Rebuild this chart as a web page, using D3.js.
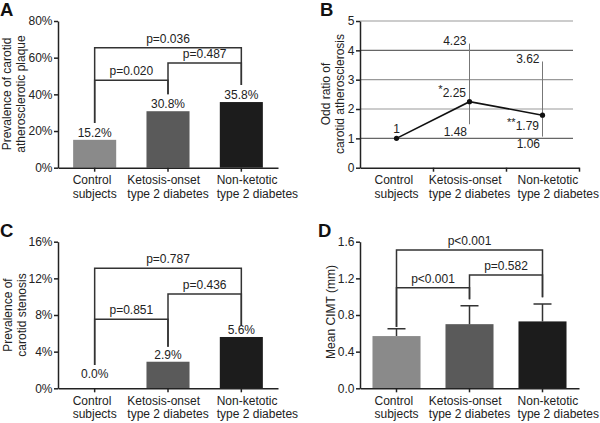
<!DOCTYPE html>
<html>
<head>
<meta charset="utf-8">
<script src="https://cdn.jsdelivr.net/npm/d3@7"></script>
<style>
body { margin: 0; background: #fff; }
svg { font-family: "Liberation Sans", Arial, sans-serif; }
</style>
</head>
<body>
<div id="chart"></div>
<script>
// categories shared by all four panels
const categories = [["Control", "subjects"], ["Ketosis-onset", "type 2 diabetes"], ["Non-ketotic", "type 2 diabetes"]];

// A: carotid plaque prevalence (%)
const plaqueValues = [15.2, 30.8, 35.8];
const plaqueTicks = [0, 20, 40, 60, 80];
const plaquePairs = [[0, 2], [0, 1], [1, 2]];
const plaqueLevels = [65.4, 47.7, 57.1];
const plaquePLabels = ["p=0.036", "p=0.020", "p=0.487"];
const plaqueLegEnds = [24.4, 40.0, 45.1];

// B: odds ratio of carotid atherosclerosis
const orValues = [1, 2.25, 1.79];
const orLower = [null, 1.48, 1.06];
const orUpper = [null, 4.23, 3.62];
const orStars = ["", "*", "**"];
const orTicks = [0, 1, 2, 3, 4, 5];

// C: carotid stenosis prevalence (%)
const stenosisValues = [0.0, 2.9, 5.6];
const stenosisTicks = [0, 4, 8, 12, 16];
const stenosisPairs = [[0, 2], [0, 1], [1, 2]];
const stenosisLevels = [13.1, 7.53, 10.3];
const stenosisPLabels = ["p=0.787", "p=0.851", "p=0.436"];
const stenosisLegEnds = [2.54, 4.54, 6.9];

// D: mean CIMT (mm) with SD
const cimtMean = [0.57, 0.70, 0.73];
const cimtSD = [0.08, 0.20, 0.19];
const cimtTicks = [0, 0.4, 0.8, 1.2, 1.6];
const cimtPairs = [[0, 2], [0, 1], [1, 2]];
const cimtLevels = [1.509, 1.097, 1.236];
const cimtPLabels = ["p<0.001", "p<0.001", "p=0.582"];
const cimtLegEnds = [0.669, 0.971, 0.993];

const barColors = ["#8a8a8a", "#5a5a5a", "#1c1c1c"];
const ink = "#222";

let svg = d3.select('#chart')
    .append('svg')
    .attr('width', 600)
    .attr('height', 423);

//panel letter
let addLetter = function (letter, x, y) {
    svg.append('text')
        .attr('x', x).attr('y', y)
        .attr('font-size', 18.5).attr('font-weight', 'bold')
        .attr('fill', '#111')
        .text(letter);
};

//rotated y title, first line baseline at tx
let addYTitle = function (lines, tx, ty) {
    let t = svg.append('text')
        .attr('transform', `translate(${tx},${ty}) rotate(-90)`)
        .attr('text-anchor', 'middle')
        .attr('font-size', 12)
        .attr('fill', ink);
    lines.forEach((l, i) => {
        t.append('tspan').attr('x', 0).attr('dy', i === 0 ? 0 : 13.5).text(l);
    });
};

let drawYAxis = function (g, y, ticks, fmt, left) {
    let ax = g.append('g')
        .attr('transform', `translate(${left},0)`)
        .call(d3.axisLeft(y).tickValues(ticks).tickSize(4).tickSizeOuter(0).tickPadding(1.5).tickFormat(fmt));
    ax.attr('font-family', null).attr('font-size', 12);
    ax.select('.domain').attr('stroke', ink).attr('stroke-width', 1.5);
    ax.selectAll('.tick line').attr('stroke', ink).attr('stroke-width', 1.5);
    ax.selectAll('.tick text').attr('fill', ink);
};

//two-line category labels: left-aligned block centred on the tick,
//pushed right if it would run into the previous one, kept inside the page
let drawCategoryLabels = function (g, cx, bottom) {
    let prevEnd = -Infinity;
    categories.forEach((c, i) => {
        let t = g.append('text')
            .attr('font-size', 12)
            .attr('fill', ink);
        let spans = c.map((l, k) => t.append('tspan').attr('y', bottom + 16.5 + k * 13.5).text(l));
        let w = d3.max(spans, s => s.node().getComputedTextLength());
        let start = Math.max(cx(i) - w / 2, prevEnd + 8);
        start = Math.min(start, 599 - w);
        spans.forEach(s => s.attr('x', start));
        prevEnd = start + w;
    });
};

let drawBarPanel = function (cfg) {
    let g = svg.append('g');
    let y = d3.scaleLinear()
        .domain([0, cfg.ticks[cfg.ticks.length - 1]])
        .range([cfg.bottom, cfg.top]);
    let x = d3.scaleBand()
        .domain(d3.range(categories.length))
        .range([cfg.left, cfg.right])
        .paddingInner(cfg.pad)
        .paddingOuter(cfg.pad / 2);
    let cx = i => x(i) + x.bandwidth() / 2;

    //bars
    g.selectAll('.bar')
        .data(cfg.values)
        .join('rect')
        .attr('class', 'bar')
        .attr('x', (d, i) => x(i))
        .attr('y', d => y(d))
        .attr('width', x.bandwidth())
        .attr('height', d => cfg.bottom - y(d))
        .attr('fill', (d, i) => barColors[i]);

    //error bars (upper SD only)
    if (cfg.sd) {
        g.selectAll('.err')
            .data(cfg.values)
            .join('path')
            .attr('class', 'err')
            .attr('d', (d, i) => `M${cx(i)},${y(d)}V${y(d + cfg.sd[i])}M${cx(i) - 9},${y(d + cfg.sd[i])}H${cx(i) + 9}`)
            .attr('fill', 'none')
            .attr('stroke', '#333')
            .attr('stroke-width', 1.5);
    }

    //value labels above bars
    if (cfg.labelFmt) {
        g.selectAll('.val')
            .data(cfg.values)
            .join('text')
            .attr('class', 'val')
            .attr('x', (d, i) => cx(i))
            .attr('y', d => Math.min(y(d) - 3, cfg.bottom - 10))
            .attr('text-anchor', 'middle')
            .attr('font-size', 12)
            .attr('fill', ink)
            .text(cfg.labelFmt);
    }

    //significance brackets
    g.selectAll('.bracket')
        .data(cfg.pairs)
        .join('path')
        .attr('class', 'bracket')
        .attr('d', (p, k) => `M${cx(p[0])},${y(cfg.legEnds[p[0]])}V${y(cfg.levels[k])}H${cx(p[1])}V${y(cfg.legEnds[p[1]])}`)
        .attr('fill', 'none')
        .attr('stroke', '#333')
        .attr('stroke-width', 1.5);

    g.selectAll('.plab')
        .data(cfg.pLabels)
        .join('text')
        .attr('class', 'plab')
        .attr('x', (t, k) => (cx(cfg.pairs[k][0]) + cx(cfg.pairs[k][1])) / 2)
        .attr('y', (t, k) => y(cfg.levels[k]) - 5)
        .attr('text-anchor', 'middle')
        .attr('font-size', 12)
        .attr('fill', ink)
        .text(t => t);

    //axes
    let xa = g.append('g')
        .attr('transform', `translate(0,${cfg.bottom})`)
        .call(d3.axisBottom(x).tickSize(4).tickSizeOuter(0).tickFormat(''));
    xa.select('.domain').attr('stroke', ink).attr('stroke-width', 1.5);
    xa.selectAll('.tick line').attr('stroke', ink).attr('stroke-width', 1.5);
    drawYAxis(g, y, cfg.ticks, cfg.tickFmt, cfg.left);
    drawCategoryLabels(g, cx, cfg.bottom);
};

let drawOddsPanel = function (cfg) {
    let g = svg.append('g');
    let y = d3.scaleLinear().domain([0, orTicks[orTicks.length - 1]]).range([cfg.bottom, cfg.top]);
    let x = d3.scaleLinear().domain([0, categories.length]).range([cfg.left, cfg.right]);
    let cx = i => x(i + 0.5);

    //grid lines
    g.selectAll('.grid')
        .data(orTicks.filter(t => t > 0))
        .join('line')
        .attr('class', 'grid')
        .attr('x1', cfg.left).attr('x2', cfg.gridRight)
        .attr('y1', d => y(d)).attr('y2', d => y(d))
        .attr('stroke', d => d % 3 === 1 ? '#666' : '#999')
        .attr('stroke-width', 1.2);

    //confidence intervals
    let ci = d3.range(categories.length).filter(i => orLower[i] !== null);
    g.selectAll('.ci')
        .data(ci)
        .join('line')
        .attr('class', 'ci')
        .attr('x1', i => cx(i)).attr('x2', i => cx(i))
        .attr('y1', i => y(orUpper[i])).attr('y2', i => y(orLower[i]))
        .attr('stroke', '#777')
        .attr('stroke-width', 1);

    g.selectAll('.cihi')
        .data(ci)
        .join('text')
        .attr('class', 'cihi')
        .attr('x', i => cx(i) - 3)
        .attr('y', i => y(orUpper[i]) + 1.5)
        .attr('text-anchor', 'end')
        .attr('font-size', 12)
        .attr('fill', ink)
        .text(i => orUpper[i].toFixed(2));

    g.selectAll('.cilo')
        .data(ci)
        .join('text')
        .attr('class', 'cilo')
        .attr('x', i => cx(i) - 2.5)
        .attr('y', i => y(orLower[i]) + 11.5)
        .attr('text-anchor', 'end')
        .attr('font-size', 12)
        .attr('fill', ink)
        .text(i => orLower[i].toFixed(2));

    //line and points
    g.append('path')
        .datum(orValues)
        .attr('d', d3.line().x((d, i) => cx(i)).y(d => y(d)))
        .attr('fill', 'none')
        .attr('stroke', '#111')
        .attr('stroke-width', 1.6);

    g.selectAll('.pt')
        .data(orValues)
        .join('circle')
        .attr('class', 'pt')
        .attr('cx', (d, i) => cx(i))
        .attr('cy', d => y(d))
        .attr('r', 2.6)
        .attr('fill', '#111');

    //point labels: first centred above, then left/above, last left/below
    let below = [false, false, true];
    orValues.forEach((v, i) => {
        let t = g.append('text')
            .attr('font-size', 12)
            .attr('fill', ink);
        if (i === 0) {
            t.attr('x', cx(i)).attr('y', y(v) - 5).attr('text-anchor', 'middle').text(String(v));
            return;
        }
        t.attr('x', cx(i) - 3.5)
            .attr('y', below[i] ? y(v) + 15 : y(v) - 5)
            .attr('text-anchor', 'end');
        t.append('tspan').attr('font-size', 11).attr('dy', -4).text(orStars[i]);
        t.append('tspan').attr('dy', 4).text(v.toFixed(2));
    });

    //axes
    let xa = g.append('g')
        .attr('transform', `translate(0,${cfg.bottom})`)
        .call(d3.axisBottom(x).tickValues(d3.range(1, categories.length + 1)).tickSize(4).tickSizeOuter(0).tickFormat(''));
    xa.select('.domain').attr('stroke', ink).attr('stroke-width', 1.5);
    xa.selectAll('.tick line').attr('stroke', ink).attr('stroke-width', 1.5);
    drawYAxis(g, y, orTicks, d3.format('d'), cfg.left);
    drawCategoryLabels(g, cx, cfg.bottom);
};

//A
drawBarPanel({
    left: 58, right: 278, top: 21, bottom: 167.7, pad: 0.413,
    values: plaqueValues, ticks: plaqueTicks, tickFmt: d => d + '%',
    labelFmt: d => d.toFixed(1) + '%',
    pairs: plaquePairs, levels: plaqueLevels, pLabels: plaquePLabels, legEnds: plaqueLegEnds
});
addLetter('A', 0, 15.5);
addYTitle(["Prevalence of carotid", "atherosclerotic plaque"], 11, 94);

//B
drawOddsPanel({ left: 360, right: 579, gridRight: 573, top: 21, bottom: 167.7 });
addLetter('B', 320, 15.5);
addYTitle(["Odd ratio of", "carotid atherosclerosis"], 330, 94);

//C
drawBarPanel({
    left: 58, right: 278, top: 241.7, bottom: 388.3, pad: 0.413,
    values: stenosisValues, ticks: stenosisTicks, tickFmt: d => d + '%',
    labelFmt: d => d.toFixed(1) + '%',
    pairs: stenosisPairs, levels: stenosisLevels, pLabels: stenosisPLabels, legEnds: stenosisLegEnds
});
addLetter('C', 0, 237);
addYTitle(["Prevalence of", "carotid stenosis"], 12, 315);

//D
drawBarPanel({
    left: 360, right: 579, top: 241.7, bottom: 388.3, pad: 0.342,
    values: cimtMean, sd: cimtSD, ticks: cimtTicks, tickFmt: d3.format('.1f'),
    pairs: cimtPairs, levels: cimtLevels, pLabels: cimtPLabels, legEnds: cimtLegEnds
});
addLetter('D', 318, 237);
addYTitle(["Mean CIMT (mm)"], 335, 312);
</script>
</body>
</html>
